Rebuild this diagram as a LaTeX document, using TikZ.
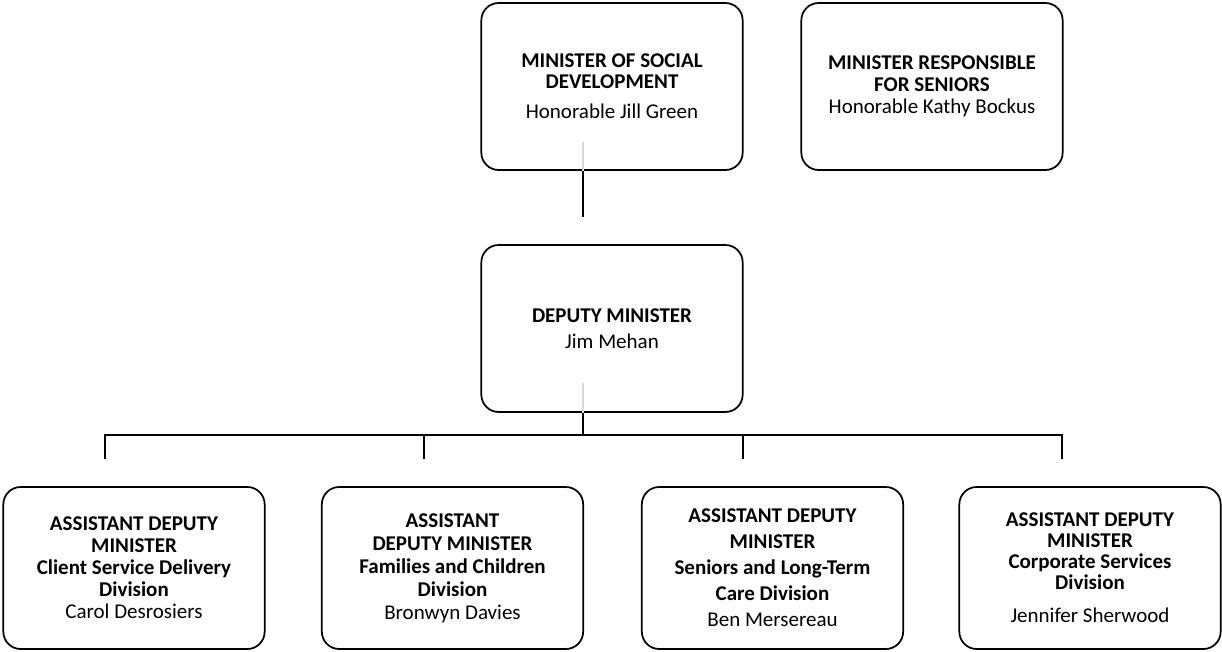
\documentclass[tikz,border=0pt]{standalone}
\usepackage{fontspec}
\setmainfont{Carlito}

\begin{document}
\begin{tikzpicture}[x=0.75pt, y=-0.75pt,
    post/.style={draw, line width=1.3pt, rounded corners=13pt, align=center,
        inner sep=2pt, font=\fontsize{15.75}{16.5}\selectfont},
    toppost/.style={post, minimum width=196pt, minimum height=125.25pt},
    adm/.style={post, minimum width=196pt, minimum height=121.5pt},
    link/.style={line width=1.3pt},
    ghost/.style={line width=1.1pt, black!15}]
    \useasboundingbox (0,0) rectangle (1222,651);
    % Ministers
    \node[toppost, font=\fontsize{15.75}{15.75}\selectfont] (msd) at (612,86.5)
        {\textbf{MINISTER OF SOCIAL}\\\textbf{DEVELOPMENT}\\[7pt]Honorable Jill Green};
    \node[toppost] (mrs) at (932,86.5)
        {\textbf{MINISTER RESPONSIBLE}\\\textbf{FOR SENIORS}\\Honorable Kathy Bockus};
    % Deputy minister
    \node[toppost] (dm) at (612,328.5) {\textbf{DEPUTY MINISTER}\\[3pt]Jim Mehan};
    % Assistant deputy ministers
    \node[adm] (adm1) at (134,568)
        {\textbf{ASSISTANT DEPUTY}\\\textbf{MINISTER}\\\textbf{Client Service Delivery}\\\textbf{Division}\\Carol Desrosiers};
    \node[adm, font=\fontsize{15.75}{17.25}\selectfont] (adm2) at (452.5,568)
        {\textbf{ASSISTANT}\\\textbf{DEPUTY MINISTER}\\\textbf{Families and Children}\\\textbf{Division}\\Bronwyn Davies};
    \node[adm, font=\fontsize{15.75}{19.5}\selectfont] (adm3) at (772.5,568)
        {\textbf{ASSISTANT DEPUTY}\\\textbf{MINISTER}\\\textbf{Seniors and Long-Term}\\\textbf{Care Division}\\Ben Mersereau};
    \node[adm, font=\fontsize{15.75}{15.75}\selectfont] (adm4) at (1090,568)
        {\textbf{ASSISTANT DEPUTY}\\\textbf{MINISTER}\\\textbf{Corporate Services}\\\textbf{Division}\\[9pt]Jennifer Sherwood};
    % Connector ends
    \coordinate (msdin) at (583,142);
    \coordinate (msdend) at (583,217);
    \coordinate (dmin) at (583,383);
    \coordinate (bus) at (583,435);
    \foreach \i/\x in {1/105,2/424,3/743,4/1062} {
        \coordinate (top\i) at (\x,435);
        \coordinate (end\i) at (\x,459);
    }
    % Lines
    \draw[ghost] (msd.south -| msdin) -- (msdin);
    \draw[ghost] (dm.south -| dmin) -- (dmin);
    \draw[link] (msd.south -| msdend) -- (msdend);
    \draw[link] (dm.south -| bus) -- (bus);
    \draw[link] (end1) -- (top1) -- (top4) -- (end4);
    \foreach \i in {2,3} {
        \draw[link] (top\i) -- (end\i);
    }
\end{tikzpicture}
\end{document}
